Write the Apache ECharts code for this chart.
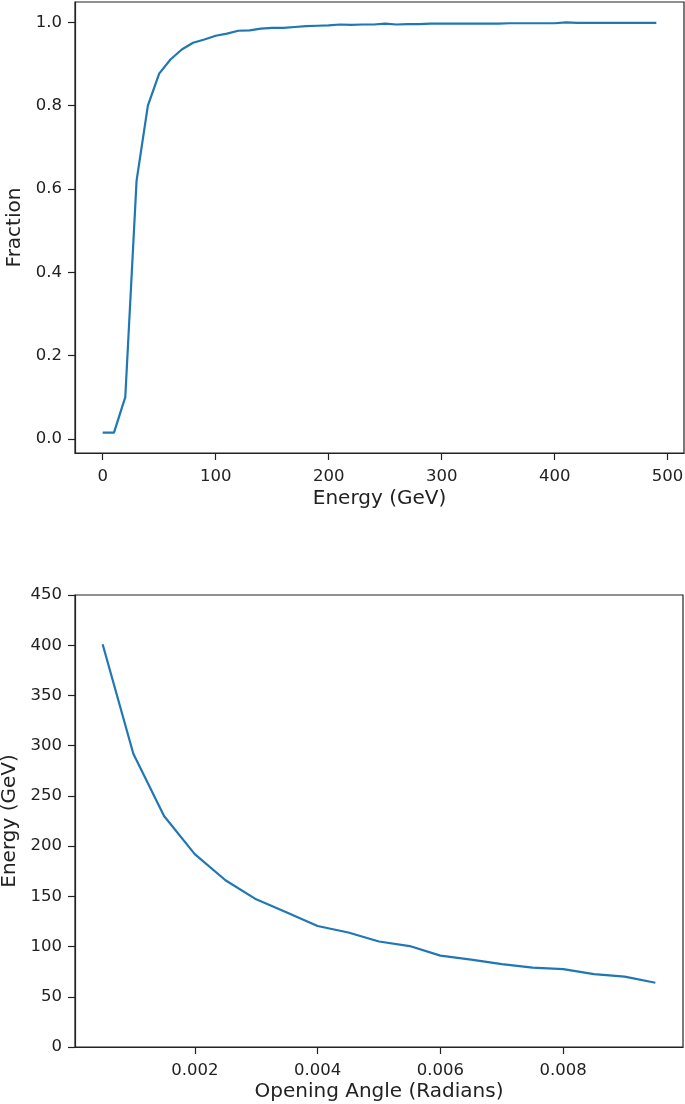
<!DOCTYPE html>
<html>
<head>
<meta charset="utf-8">
<script src="https://cdn.jsdelivr.net/npm/echarts@6/dist/echarts.min.js"></script>
<style>
html,body{margin:0;padding:0;background:#fff;}
#chart{width:685px;height:1104px;}
</style>
</head>
<body>
<div id="chart"></div>
<script>
// ---- Top panel data ----
const energyGeV = [0,10,20,30,40,50,60,70,80,90,100,110,120,130,140,150,160,170,180,190,200,210,220,230,240,250,260,270,280,290,300,310,320,330,340,350,360,370,380,390,400,410,420,430,440,450,460,470,480,490];
const fraction = [0.015,0.015,0.100,0.620,0.800,0.877,0.911,0.935,0.951,0.959,0.968,0.973,0.980,0.981,0.985,0.987,0.987,0.989,0.991,0.992,0.993,0.995,0.994,0.995,0.995,0.997,0.995,0.996,0.996,0.997,0.997,0.997,0.997,0.997,0.997,0.997,0.998,0.998,0.998,0.998,0.998,1.000,0.999,0.999,0.999,0.999,0.999,0.999,0.999,0.999];
const topXTicks = [0,100,200,300,400,500];
const topYTicks = [0,0.2,0.4,0.6,0.8,1.0];

// ---- Bottom panel data ----
const openingAngle = [0.0005,0.001,0.0015,0.002,0.0025,0.003,0.0035,0.004,0.0045,0.005,0.0055,0.006,0.0065,0.007,0.0075,0.008,0.0085,0.009,0.0095];
const angleEnergy = [401,292,230,192,166,147,134,120.5,114,105,100.5,91,87,82.5,79,77.5,72.5,70,64];
const botXTicks = [0.002,0.004,0.006,0.008];

const FONT = 'DejaVu Sans';
const AX = '#222';
const LINE = '#1f77b4';

function axisCommon(){
  return {
    axisLine:{show:true,onZero:false,lineStyle:{color:AX,width:1.2}},
    axisTick:{show:true,inside:false,length:7,lineStyle:{color:AX,width:1.2}},
    splitLine:{show:false},
    nameTextStyle:{fontFamily:FONT,fontSize:20,color:'#222'},
    nameLocation:'middle'
  };
}

const chart = echarts.init(document.getElementById('chart'), null, {renderer:'canvas'});
const option = {
  animation:false,
  backgroundColor:'#fff',
  grid:[
    {left:75,top:2,width:609,height:451,show:true,borderColor:AX,borderWidth:1.2,backgroundColor:'transparent',containLabel:false,outerBoundsMode:'none'},
    {left:75,top:595,width:608,height:452,show:true,borderColor:AX,borderWidth:1.2,backgroundColor:'transparent',containLabel:false,outerBoundsMode:'none'}
  ],
  xAxis:[
    Object.assign(axisCommon(),{
      gridIndex:0,type:'value',min:-24.5,max:514.5,
      name:'Energy (GeV)',nameGap:36,
      axisTick:{show:true,inside:false,length:7,lineStyle:{color:AX,width:1.2},customValues:topXTicks},
      axisLabel:{customValues:topXTicks,fontFamily:FONT,fontSize:16.5,color:'#222',margin:15,formatter:v=>String(Math.round(v))}
    }),
    Object.assign(axisCommon(),{
      gridIndex:1,type:'value',min:0.00005,max:0.00995,
      name:'Opening Angle (Radians)',nameGap:35,
      axisTick:{show:true,inside:false,length:7,lineStyle:{color:AX,width:1.2},customValues:botXTicks},
      axisLabel:{customValues:botXTicks,fontFamily:FONT,fontSize:16.5,color:'#222',margin:15,formatter:v=>v.toFixed(3)}
    })
  ],
  yAxis:[
    Object.assign(axisCommon(),{
      gridIndex:0,type:'value',min:-0.034,max:1.049,
      name:'Fraction',nameGap:45,
      axisTick:{show:true,inside:false,length:7,lineStyle:{color:AX,width:1.2},customValues:topYTicks},
      axisLabel:{customValues:topYTicks,fontFamily:FONT,fontSize:16.5,color:'#222',margin:13,formatter:v=>v.toFixed(1)}
    }),
    Object.assign(axisCommon(),{
      gridIndex:1,type:'value',min:0,max:450,interval:50,
      name:'Energy (GeV)',nameGap:54,
      axisLabel:{fontFamily:FONT,fontSize:16.5,color:'#222',margin:13}
    })
  ],
  series:[
    {type:'line',xAxisIndex:0,yAxisIndex:0,data:energyGeV.map((x,i)=>[x,fraction[i]]),
     showSymbol:false,lineStyle:{color:LINE,width:2.2},itemStyle:{color:LINE}},
    {type:'line',xAxisIndex:1,yAxisIndex:1,data:openingAngle.map((x,i)=>[x,angleEnergy[i]]),
     showSymbol:false,lineStyle:{color:LINE,width:2.2},itemStyle:{color:LINE}}
  ]
};
chart.setOption(option);
</script>
</body>
</html>
